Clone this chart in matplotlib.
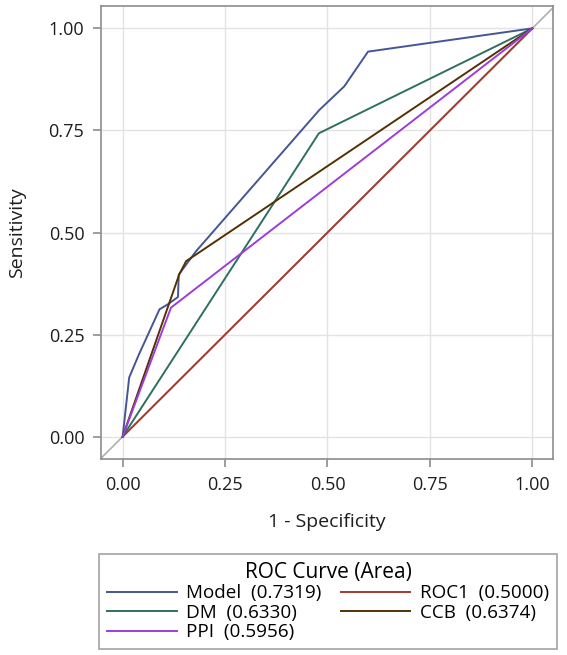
import matplotlib
matplotlib.use('Agg')
import matplotlib.pyplot as plt

# Curvas ROC
model_x = [0.0, 0.016, 0.040, 0.090, 0.110, 0.135, 0.137, 0.179, 0.480, 0.541, 0.599, 1.0]
model_y = [0.0, 0.145, 0.202, 0.312, 0.324, 0.342, 0.397, 0.454, 0.800, 0.858, 0.943, 1.0]
roc1_x = [0.0, 1.0]
roc1_y = [0.0, 1.0]
dm_x = [0.0, 0.479, 1.0]
dm_y = [0.0, 0.743, 1.0]
ccb_x = [0.0, 0.138, 0.155, 0.179, 1.0]
ccb_y = [0.0, 0.397, 0.430, 0.446, 1.0]
ppi_x = [0.0, 0.118, 1.0]
ppi_y = [0.0, 0.316, 1.0]

labels = {'Model': 'Model  (0.7319)', 'ROC1': 'ROC1  (0.5000)',
          'DM': 'DM  (0.6330)', 'CCB': 'CCB  (0.6374)', 'PPI': 'PPI  (0.5956)'}
ticks = [0.0, 0.25, 0.5, 0.75, 1.0]
tick_labels = ['0.00', '0.25', '0.50', '0.75', '1.00']

plt.rcParams['font.family'] = ['Open Sans', 'DejaVu Sans']

fig = plt.figure(figsize=(5.67, 6.55), dpi=100)
ax = fig.add_axes([0.178, 0.299, 0.797, 0.692])

gris = '#8c8c8c'
texto = '#1e1e1e'
ax.plot([-0.1, 1.1], [-0.1, 1.1], color='#b0b0b0', lw=1.2, zorder=1)
l_model, = ax.plot(model_x, model_y, color='#445694', lw=1.4, zorder=3)
l_roc1, = ax.plot(roc1_x, roc1_y, color='#A23A2E', lw=1.4, zorder=3)
l_dm, = ax.plot(dm_x, dm_y, color='#2f6f60', lw=1.4, zorder=3)
l_ccb, = ax.plot(ccb_x, ccb_y, color='#543005', lw=1.4, zorder=3)
l_ppi, = ax.plot(ppi_x, ppi_y, color='#9D3CDB', lw=1.4, zorder=3)

ax.set_xlim(-0.053, 1.05)
ax.set_ylim(-0.055, 1.055)
ax.set_xticks(ticks)
ax.set_xticklabels(tick_labels)
ax.set_yticks(ticks)
ax.set_yticklabels(tick_labels)
ax.grid(True, color='#e3e3e3', lw=1.0, zorder=0)
ax.set_axisbelow(True)
for s in ax.spines.values():
    s.set_color(gris)
    s.set_linewidth(1.2)
ax.tick_params(colors=gris, labelcolor=texto, labelsize=13, length=6,
               width=1.2, pad=6)
ax.set_xlabel('1 - Specificity', fontsize=14, color=texto, labelpad=14)
ax.set_ylabel('Sensitivity', fontsize=14, color=texto, labelpad=16)

leg = fig.legend([l_model, l_dm, l_ppi, l_roc1, l_ccb],
                 [labels['Model'], labels['DM'], labels['PPI'],
                  labels['ROC1'], labels['CCB']],
                 ncol=2, loc='upper center', bbox_to_anchor=(0.5785, 0.154),
                 title='ROC Curve (Area)', title_fontsize=15, fontsize=13.6,
                 frameon=True, fancybox=False, handlelength=3.7,
                 handletextpad=0.5, columnspacing=1.0, labelspacing=0.08,
                 borderpad=0.4, borderaxespad=0)
leg.get_frame().set_edgecolor(gris)
leg.get_frame().set_linewidth(1.2)

fig.savefig('out.png', dpi=100, facecolor='white')
